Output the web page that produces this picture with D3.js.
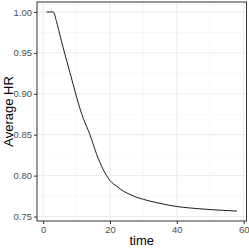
<!DOCTYPE html>
<html>
<head>
<meta charset="utf-8">
<script src="https://cdn.jsdelivr.net/npm/d3@7"></script>
<style>
  body { margin: 0; background: #fff; }
  svg { display: block; font-family: "Liberation Sans", Arial, sans-serif; }
</style>
</head>
<body>
<div id="container"></div>
<script>
const time = [1, 2, 3, 4, 5, 6, 7, 8, 9, 10, 11, 12, 13, 14, 15, 16, 17, 18, 19, 20,
  22, 24, 26, 28, 30, 32, 35, 38, 42, 46, 50, 54, 58];
const hr = [1.0, 1.0, 1.0, 0.988, 0.972, 0.956, 0.941, 0.926, 0.911, 0.896, 0.882, 0.870,
  0.860, 0.850, 0.838, 0.826, 0.816, 0.807, 0.800, 0.794, 0.787, 0.781, 0.777, 0.7735,
  0.771, 0.7688, 0.766, 0.7635, 0.7612, 0.7597, 0.7585, 0.7575, 0.7567];
const xTicks = [0, 20, 40, 60];
const yTicks = [0.75, 0.80, 0.85, 0.90, 0.95, 1.00];

const chart = () => {
  const width = 249, height = 249;
  const left = 37, top = 2, right = 246.5, bottom = 221;

  const xs = d3.extent(time), ys = d3.extent(hr);
  const xp = (xs[1] - xs[0]) * 0.05, yp = (ys[1] - ys[0]) * 0.05;
  const x = d3.scaleLinear().domain([xs[0] - xp, xs[1] + xp]).range([left, right]);
  const y = d3.scaleLinear().domain([ys[0] - yp, ys[1] + yp]).range([bottom, top]);

  const svg = d3.create("svg")
    .attr("width", width)
    .attr("height", height);

  // minor grid
  const xMinor = xTicks.slice(0, -1).map((d, i) => (d + xTicks[i + 1]) / 2);
  const yMinor = yTicks.slice(0, -1).map((d, i) => (d + yTicks[i + 1]) / 2);
  const g = svg.append("g");
  g.selectAll(".vmin").data(xMinor).join("line")
    .attr("x1", d => x(d)).attr("x2", d => x(d))
    .attr("y1", top).attr("y2", bottom)
    .attr("stroke", "#f3f3f3").attr("stroke-width", 0.6);
  g.selectAll(".hmin").data(yMinor).join("line")
    .attr("y1", d => y(d)).attr("y2", d => y(d))
    .attr("x1", left).attr("x2", right)
    .attr("stroke", "#f3f3f3").attr("stroke-width", 0.6);
  g.selectAll(".vmaj").data(xTicks).join("line")
    .attr("x1", d => x(d)).attr("x2", d => x(d))
    .attr("y1", top).attr("y2", bottom)
    .attr("stroke", "#ebebeb").attr("stroke-width", 1);
  g.selectAll(".hmaj").data(yTicks).join("line")
    .attr("y1", d => y(d)).attr("y2", d => y(d))
    .attr("x1", left).attr("x2", right)
    .attr("stroke", "#ebebeb").attr("stroke-width", 1);

  const line = d3.line().x((d, i) => x(time[i])).y(d => y(d)).curve(d3.curveMonotoneX);
  svg.append("path")
    .attr("d", line(hr))
    .attr("fill", "none")
    .attr("stroke", "#111")
    .attr("stroke-width", 0.95);

  svg.append("rect")
    .attr("x", left).attr("y", top)
    .attr("width", right - left).attr("height", bottom - top)
    .attr("fill", "none").attr("stroke", "#333").attr("stroke-width", 1);

  // axes
  const xa = svg.append("g").attr("transform", `translate(0,${bottom})`)
    .call(d3.axisBottom(x).tickValues(xTicks).tickSize(3).tickPadding(2).tickFormat(d3.format("d")));
  const ya = svg.append("g").attr("transform", `translate(${left},0)`)
    .call(d3.axisLeft(y).tickValues(yTicks).tickSize(3).tickPadding(2).tickFormat(d3.format(".2f")));
  [xa, ya].forEach(a => {
    a.select(".domain").remove();
    a.selectAll("line").attr("stroke", "#333");
    a.selectAll("text").attr("fill", "#4d4d4d").attr("font-size", 9.5)
      .attr("font-family", "Liberation Sans, Arial, sans-serif");
  });

  svg.append("text")
    .attr("x", (left + right) / 2).attr("y", 245)
    .attr("text-anchor", "middle")
    .attr("font-size", 13)
    .text("time");
  svg.append("text")
    .attr("transform", `translate(13,${(top + bottom) / 2}) rotate(-90)`)
    .attr("text-anchor", "middle")
    .attr("font-size", 13)
    .text("Average HR");

  return svg.node();
};

const container = document.getElementById("container");
container.innerHTML = "";
container.appendChild(chart());
</script>
</body>
</html>
